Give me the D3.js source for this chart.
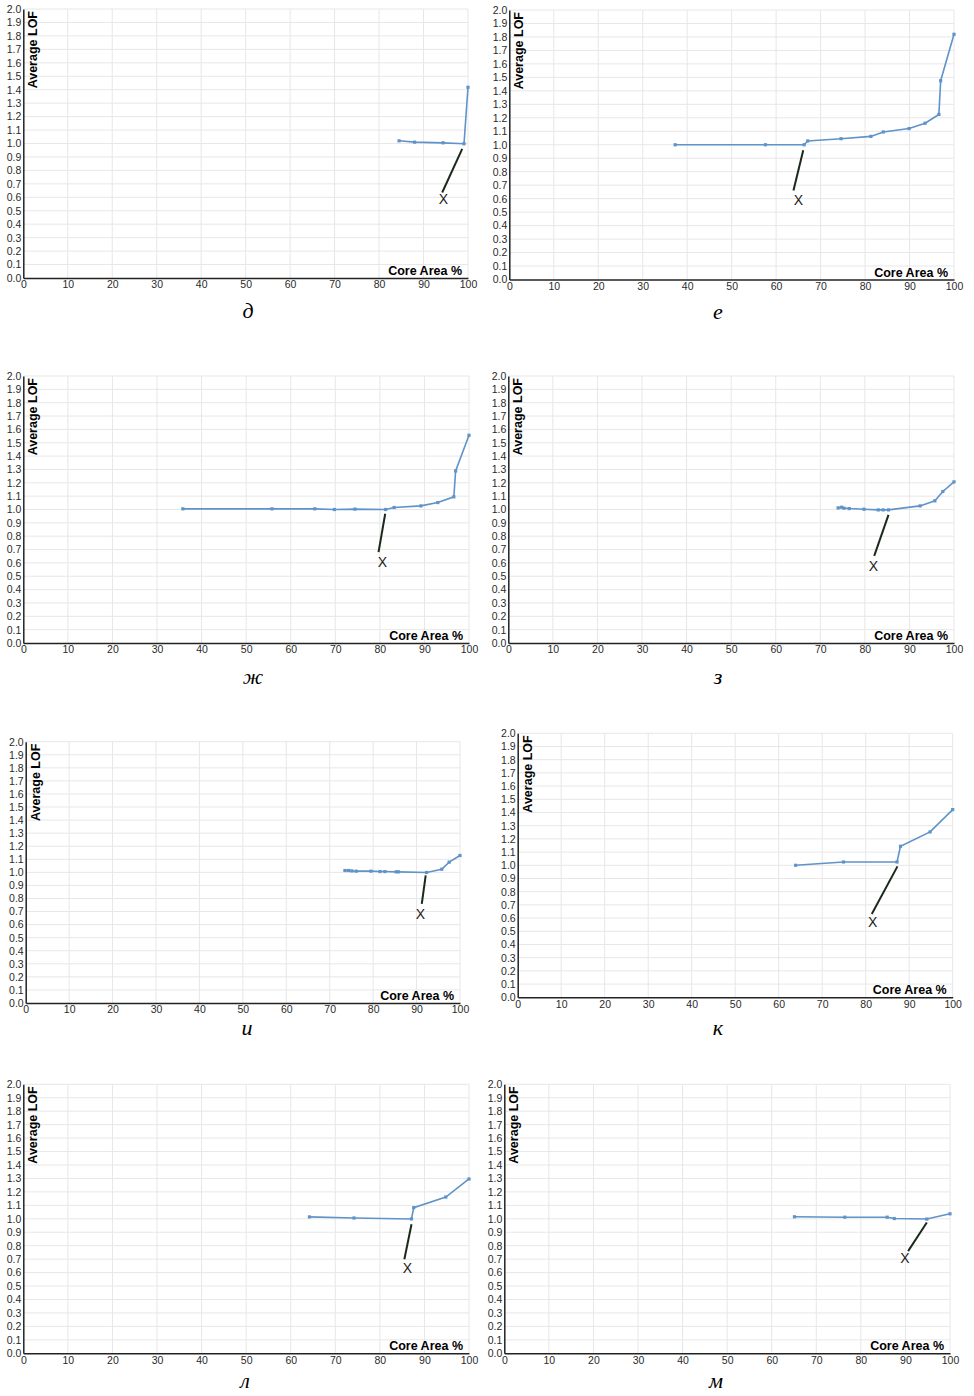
<!DOCTYPE html>
<html><head><meta charset="utf-8">
<script src="https://cdn.jsdelivr.net/npm/d3@7"></script>
<style>
body{margin:0;background:#fff;}
svg{display:block;}
</style></head>
<body>
<svg id="chart" width="974" height="1396"></svg>
<script>
// ---- data (Core Area %, Average LOF) ----
const captions = ["д","е","ж","з","и","к","л","м"];
const xTicks = [0,10,20,30,40,50,60,70,80,90,100];
const yTicks = [0,0.1,0.2,0.3,0.4,0.5,0.6,0.7,0.8,0.9,1.0,1.1,1.2,1.3,1.4,1.5,1.6,1.7,1.8,1.9,2.0];
const xLabel = "Core Area %";
const yLabel = "Average LOF";
const markLabel = "X";

const xD = [84.5, 88.0, 94.4, 99.1, 100];
const yD = [1.02, 1.01, 1.005, 0.998, 1.418];
const annD = [[98.7, 0.96], [94.2, 0.636], [94.5, 0.587]];

const xE = [37.3, 57.6, 66.3, 67.1, 74.6, 81.3, 84.1, 89.9, 93.5, 96.6, 97.0, 100];
const yE = [1.0, 1.0, 1.0, 1.028, 1.045, 1.062, 1.095, 1.12, 1.16, 1.225, 1.475, 1.82];
const annE = [[66.1, 0.96], [63.9, 0.661], [65.0, 0.587]];

const xZh = [35.8, 55.8, 65.4, 69.8, 74.4, 81.3, 83.2, 89.2, 93.0, 96.6, 97.0, 100];
const yZh = [1.005, 1.005, 1.005, 1.0, 1.003, 1.0, 1.015, 1.027, 1.052, 1.095, 1.289, 1.556];
const annZh = [[81.2, 0.968], [79.7, 0.681], [80.6, 0.608]];

const xZ = [74.0, 74.8, 75.3, 76.5, 79.8, 83.0, 84.1, 85.3, 92.4, 95.7, 97.5, 100];
const yZ = [1.012, 1.017, 1.01, 1.007, 1.002, 0.997, 0.997, 0.997, 1.027, 1.065, 1.135, 1.207];
const annZ = [[85.3, 0.96], [82.1, 0.653], [81.9, 0.574]];

const xI = [73.5, 74.3, 75.1, 76.1, 79.5, 81.6, 82.7, 85.3, 85.8, 92.3, 95.8, 97.5, 100];
const yI = [1.014, 1.014, 1.011, 1.009, 1.009, 1.006, 1.006, 1.004, 1.004, 0.999, 1.024, 1.078, 1.129];
const annI = [[92.1, 0.976], [91.2, 0.759], [90.9, 0.683]];

const xK = [63.9, 74.9, 87.2, 88.0, 94.8, 100];
const yK = [1.0, 1.025, 1.025, 1.144, 1.253, 1.422];
const annK = [[87.3, 0.992], [81.4, 0.631], [81.6, 0.573]];

const xL = [64.2, 74.2, 87.1, 87.6, 94.8, 100];
const yL = [1.014, 1.006, 0.999, 1.083, 1.162, 1.296];
const annL = [[87.1, 0.959], [85.5, 0.699], [86.2, 0.632]];

const xM = [65.1, 76.4, 85.9, 87.5, 94.8, 100];
const yM = [1.015, 1.012, 1.012, 1.002, 0.998, 1.037];
const annM = [[94.8, 0.973], [90.6, 0.76], [89.9, 0.705]];

const seriesX = [xD, xE, xZh, xZ, xI, xK, xL, xM];
const seriesY = [yD, yE, yZh, yZ, yI, yK, yL, yM];
const annotations = [annD, annE, annZh, annZ, annI, annK, annL, annM];

// ---- layout (pixel frames of each panel) ----
const frames = [
  {l:23.3, r:468, t:9,    b:278,  cx:248, cy:318},
  {l:509.3,r:954, t:10,   b:279.5,cx:718, cy:319},
  {l:23.3, r:469, t:376,  b:643,  cx:253, cy:684},
  {l:508.3,r:954, t:376,  b:643,  cx:718, cy:684},
  {l:25.7, r:460, t:741.7,b:1003, cx:247, cy:1035},
  {l:517.7,r:952.7,t:733.3,b:997.3,cx:718,cy:1035},
  {l:23.3, r:469, t:1084.3,b:1353.3,cx:245,cy:1388},
  {l:504.3,r:950, t:1084.3,b:1353.3,cx:716,cy:1388}
];

const svg = d3.select("#chart");
const lineColor = "#5f93c9";

frames.forEach((f, i) => {
  const x = d3.scaleLinear().domain([0, 100]).range([f.l, f.r]);
  const y = d3.scaleLinear().domain([0, 2]).range([f.b, f.t]);
  const g = svg.append("g");

  // grid
  g.append("g").selectAll("line.vx").data(xTicks.slice(1)).join("line")
    .attr("x1", d => x(d)).attr("x2", d => x(d))
    .attr("y1", f.t).attr("y2", f.b)
    .attr("stroke", "#e7e7e7").attr("stroke-width", 1);
  g.append("g").selectAll("line.hy").data(yTicks.slice(1)).join("line")
    .attr("x1", f.l).attr("x2", f.r)
    .attr("y1", d => y(d)).attr("y2", d => y(d))
    .attr("stroke", "#e7e7e7").attr("stroke-width", 1);

  // axes
  const xAxis = d3.axisBottom(x).tickValues(xTicks).tickSize(0).tickPadding(3).tickFormat(d3.format("d"));
  const yAxis = d3.axisLeft(y).tickValues(yTicks).tickSize(0).tickPadding(2).tickFormat(d3.format(".1f"));
  const ax = g.append("g").attr("transform", `translate(0,${f.b})`).call(xAxis);
  const ay = g.append("g").attr("transform", `translate(${f.l},0)`).call(yAxis);
  [ax, ay].forEach(a => {
    a.select(".domain").attr("stroke", "#222").attr("stroke-width", 1.5);
    a.selectAll("text").attr("font-family", "Arial, 'Liberation Sans', sans-serif")
      .attr("font-size", 10.5).attr("fill", "#2a2a2a");
  });

  // axis titles
  g.append("text")
    .attr("transform", `translate(${f.l + 14},${f.t + 2}) rotate(-90)`)
    .attr("text-anchor", "end")
    .attr("font-family", "Arial, 'Liberation Sans', sans-serif")
    .attr("font-weight", "bold").attr("font-size", 12.5).attr("fill", "#000")
    .text(yLabel);
  g.append("text")
    .attr("x", f.r - 6).attr("y", f.b - 3)
    .attr("text-anchor", "end")
    .attr("font-family", "Arial, 'Liberation Sans', sans-serif")
    .attr("font-weight", "bold").attr("font-size", 12.5).attr("fill", "#000")
    .text(xLabel);

  // series
  const pts = seriesX[i].map((v, k) => [v, seriesY[i][k]]);
  const line = d3.line().x(d => x(d[0])).y(d => y(d[1]));
  g.append("path").datum(pts).attr("d", line)
    .attr("fill", "none").attr("stroke", lineColor).attr("stroke-width", 1.6);
  g.append("g").selectAll("rect").data(pts).join("rect")
    .attr("x", d => x(d[0]) - 1.6).attr("y", d => y(d[1]) - 1.6)
    .attr("width", 3.2).attr("height", 3.2).attr("fill", lineColor);

  // annotation
  const a = annotations[i];
  g.append("line")
    .attr("x1", x(a[0][0])).attr("y1", y(a[0][1]))
    .attr("x2", x(a[1][0])).attr("y2", y(a[1][1]))
    .attr("stroke", "#1a2a1a").attr("stroke-width", 2);
  g.append("text")
    .attr("x", x(a[2][0])).attr("y", y(a[2][1]))
    .attr("text-anchor", "middle").attr("dominant-baseline", "central")
    .attr("font-family", "Arial, 'Liberation Sans', sans-serif")
    .attr("font-size", 14).attr("fill", "#222")
    .text(markLabel);

  // caption
  g.append("text")
    .attr("x", f.cx).attr("y", f.cy)
    .attr("text-anchor", "middle")
    .attr("font-family", "'Liberation Serif', 'Times New Roman', serif")
    .attr("font-style", "italic").attr("font-size", 22).attr("fill", "#000")
    .text(captions[i]);
});
</script>
</body></html>
